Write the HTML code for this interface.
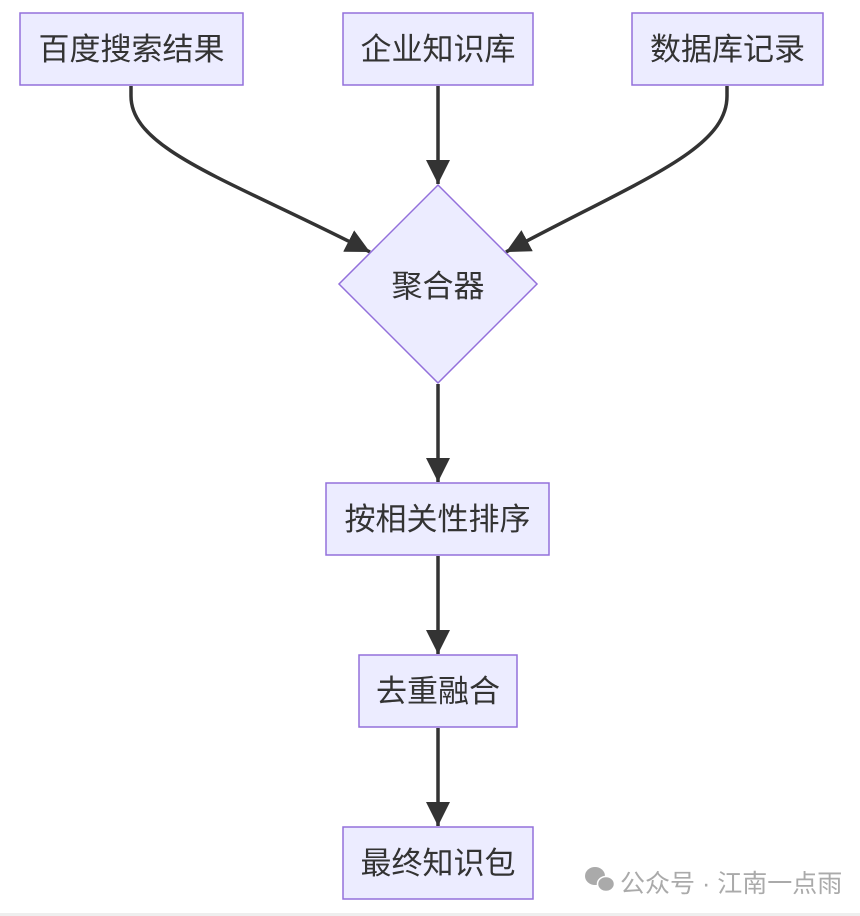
<!DOCTYPE html>
<html><head><meta charset="utf-8"><style>
html,body{margin:0;padding:0;background:#fff;width:860px;height:916px;overflow:hidden}
text{font-family:"Liberation Sans","Noto Sans CJK SC",sans-serif;font-size:31px;fill:#333}
</style></head><body>
<svg width="860" height="916" viewBox="0 0 860 916" xmlns="http://www.w3.org/2000/svg">
<defs>
<marker id="a" viewBox="0 0 10 10" refX="10" refY="5" markerUnits="userSpaceOnUse" markerWidth="24" markerHeight="24" orient="auto">
<path d="M0,0 L10,5 L0,10 z" fill="#333"/>
</marker>
</defs>
<g fill="none" stroke="#333" stroke-width="3.5">
<path d="M131,86 L131,96 C131,150 230,180 370,252" marker-end="url(#a)"/>
<path d="M438,86 L438,184" marker-end="url(#a)"/>
<path d="M727,86 L727,96 C727,150 640,180 506,252" marker-end="url(#a)"/>
<path d="M438,384 L438,482" marker-end="url(#a)"/>
<path d="M438,556 L438,654" marker-end="url(#a)"/>
<path d="M438,728 L438,826" marker-end="url(#a)"/>
</g>
<g fill="#ECECFF" stroke="#9370DB" stroke-width="1.5">
<rect x="20" y="13" width="223" height="72"/>
<rect x="343" y="13" width="190" height="72"/>
<rect x="632" y="13" width="191" height="72"/>
<polygon points="438,185 537,284 438,383 339,284"/>
<rect x="326" y="483" width="223" height="72"/>
<rect x="359" y="655" width="158" height="72"/>
<rect x="343" y="827" width="190" height="72"/>
</g>
<g text-anchor="middle">
<text x="131.5" y="60">百度搜索结果</text>
<text x="438" y="60">企业知识库</text>
<text x="727.5" y="60">数据库记录</text>
<text x="438" y="297">聚合器</text>
<text x="437.5" y="530">按相关性排序</text>
<text x="438" y="702">去重融合</text>
<text x="438" y="874">最终知识包</text>
</g>
<g fill="#aaa">
<ellipse cx="595" cy="876" rx="10" ry="9"/>
<ellipse cx="606" cy="884" rx="8.5" ry="7.5" stroke="#fff" stroke-width="1.5"/>
</g>
<text x="620" y="892" style="font-size:25px;fill:#aaa">公众号 · 江南一点雨</text>
<rect x="0" y="913" width="860" height="3" fill="#eee"/>
</svg>
</body></html>
